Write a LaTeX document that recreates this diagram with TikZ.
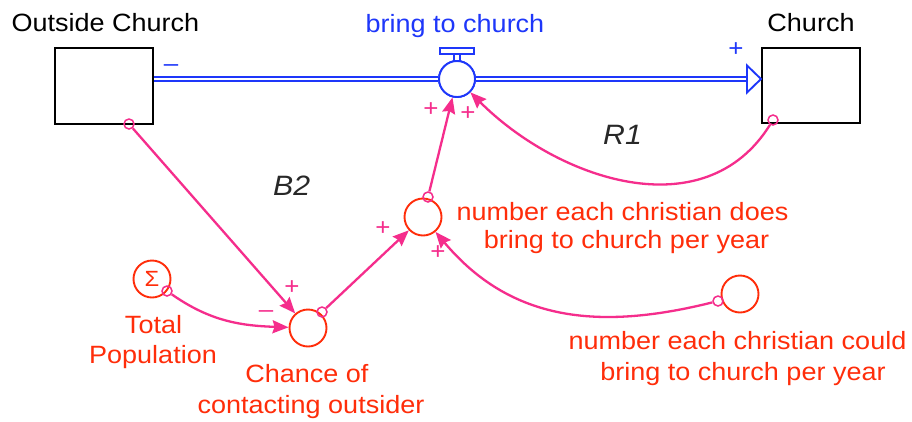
\documentclass[tikz,border=0pt]{standalone}
\usepackage{fontspec}
\setmainfont{Liberation Sans}[FakeStretch=1.08]
\usetikzlibrary{arrows.meta,calc}
\definecolor{vred}{RGB}{255,45,10}
\definecolor{vblue}{RGB}{30,55,250}
\definecolor{vpink}{RGB}{245,45,140}
\definecolor{vgray}{RGB}{40,40,40}
\begin{document}
\begin{tikzpicture}[x=1pt,y=1pt,
  txt/.style={font=\fontsize{25}{30}\selectfont, inner sep=0pt, anchor=base},
  stock/.style={draw=black, line width=2pt, inner sep=0pt, fill=white},
  aux/.style={circle, draw=vred, line width=1.9pt, minimum size=37pt, inner sep=0pt, fill=white},
  valvec/.style={circle, draw=vblue, line width=1.9pt, minimum size=36pt, inner sep=0pt, fill=white},
  pipe/.style={draw=vblue, double=white, double distance=2.4pt, line width=1.8pt},
  conn/.style={draw=vpink, line width=2.3pt, -{Stealth[length=16pt,width=13pt,inset=2pt]}},
  tail/.style={circle, draw=vpink, line width=1.5pt, minimum size=10pt, inner sep=0pt},
  pol/.style={font=\fontsize{24}{24}\selectfont, text=vpink, inner sep=0pt},
  bpol/.style={font=\fontsize{24}{24}\selectfont, text=vblue, inner sep=0pt},
  loopl/.style={font=\fontsize{28}{28}\selectfont\itshape, text=vgray, inner sep=0pt, anchor=base west},
]
\useasboundingbox[fill=white] (0,0) rectangle (912,-421);

% stocks
\node[stock, minimum width=98pt, minimum height=76pt] (oc) at (104,-86) {};
\node[stock, minimum width=98pt, minimum height=75pt] (ch) at (811,-85.5) {};
\node[txt] (ocl) at (105.5,-31) {Outside Church};
\node[txt] (chl) at (811,-31) {Church};

% valve and pipe
\node[valvec] (valve) at (457,-79) {};
\coordinate (pe) at ($(valve.east -| ch.west)+(-14,0)$);
\draw[pipe] (valve.west -| oc.east) -- (valve.west);
\draw[pipe] (valve.east) -- (pe);
\draw[vblue, line width=1.9pt, fill=white, line join=miter] ($(pe)+(0,13.5)$) -- (valve.east -| ch.west) -- ($(pe)+(0,-13.5)$) -- cycle;
\draw[vblue, line width=1.6pt, fill=white] ($(valve)+(-3,18)$) rectangle ($(valve)+(3,25)$);
\draw[vblue, line width=1.6pt, fill=white] ($(valve)+(-17,25)$) rectangle ($(valve)+(17,31)$);
\node[valvec] at (valve) {};
\node[txt, text=vblue] (vl) at (455,-32) {bring to church};
\node[bpol] (m1) at (171,-68) {\textendash};
\node[bpol] (p1) at (736,-50) {+};

% auxiliaries
\node[aux] (nd) at (423,-217) {};
\node[aux] (chance) at (308,-328) {};
\node[aux, text=vred, font=\fontsize{22}{22}\selectfont] (tp) at (152,-279) {Σ};
\node[aux] (could) at (740,-294) {};

\node[txt, text=vred] (ndl1) at (622.5,-220) {number each christian does};
\node[txt, text=vred] (ndl2) at (626.5,-248) {bring to church per year};
\node[txt, text=vred] (cdl1) at (737.5,-349) {number each christian could};
\node[txt, text=vred] (cdl2) at (743,-380) {bring to church per year};
\node[txt, text=vred] (tpl1) at (153.5,-333) {Total};
\node[txt, text=vred] (tpl2) at (153,-363) {Population};
\node[txt, text=vred] (chl1) at (307,-382) {Chance of};
\node[txt, text=vred] (chl2) at (311,-413) {contacting outsider};

% connectors
\node[tail] (t1) at (129,-124) {};
\draw[conn] (t1) -- (chance);
\node[tail] (t2) at (167,-291) {};
\draw[conn] (t2) to[out=-35,in=178] (chance);
\node[tail] (t3) at (322,-312) {};
\draw[conn] (t3) -- (nd);
\node[tail] (t4) at (428,-197) {};
\draw[conn] (t4) -- (valve);
\node[tail] (t5) at (773,-120) {};
\draw[conn] (t5) to[out=-122,in=-45,looseness=1.05] (valve);
\node[tail] (t6) at (718,-301) {};
\draw[conn] (t6) to[out=194,in=-50,looseness=1.05] (nd);

% polarities
\node[pol] (p2) at (431,-110) {+};
\node[pol] (p3) at (468,-114) {+};
\node[pol] (p4) at (383,-229) {+};
\node[pol] (p5) at (438,-253) {+};
\node[pol] (p6) at (292,-288) {+};
\node[pol] (m2) at (266,-314) {\textendash};

% loop labels
\node[loopl] (b2) at (273,-195) {B2};
\node[loopl] (r1) at (603,-144) {R1};
\end{tikzpicture}
\end{document}
